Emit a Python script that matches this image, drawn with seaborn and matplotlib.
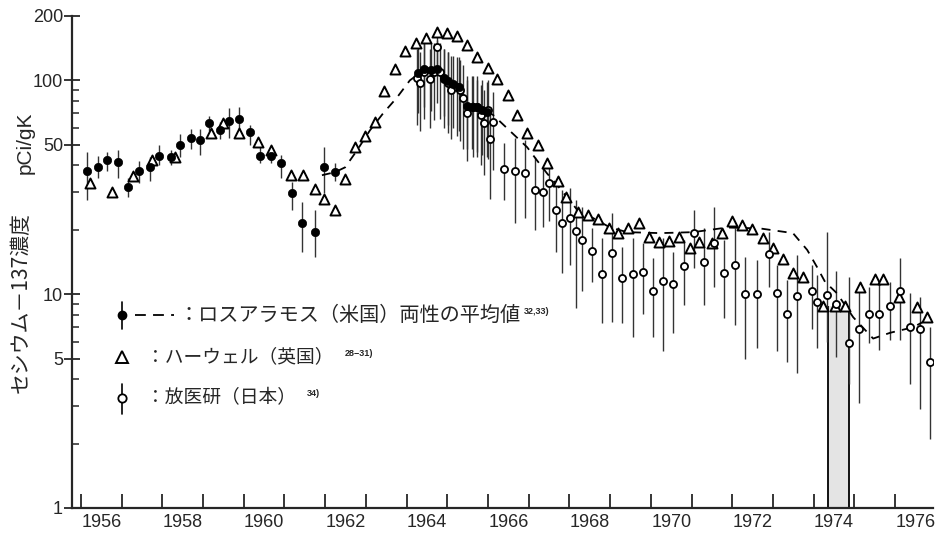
import numpy as np
import pandas as pd
import matplotlib
matplotlib.use('Agg')
import matplotlib.pyplot as plt
import seaborn as sns
from matplotlib.ticker import FixedLocator, NullFormatter, FixedFormatter

# Los Alamos (US) - filled circles with error bars
la_year = [1956.15, 1956.42, 1956.64, 1956.91, 1957.15, 1957.43, 1957.70, 1957.92,
           1958.21, 1958.43, 1958.70, 1958.92, 1959.15, 1959.42, 1959.64, 1959.89,
           1960.15, 1960.40, 1960.67, 1960.91, 1961.18, 1961.43, 1961.75, 1961.97,
           1962.24, 1964.28, 1964.43, 1964.60, 1964.75, 1964.92, 1965.02, 1965.14,
           1965.29, 1965.48, 1965.61, 1965.73, 1965.85, 1965.98]
la_val = [37.6, 39.2, 42.3, 41.4, 31.7, 37.6, 39.2, 44.5, 43.6, 49.6, 53.6, 52.4,
          63.0, 58.4, 64.3, 65.9, 57.6, 44.5, 44.5, 40.9, 29.6, 21.5, 19.5, 39.2,
          37.2, 108, 113, 112, 113, 103, 99, 96, 93, 76, 75, 75, 73, 71]
la_lo = [27.5, 34.8, 37.5, 35, 28.5, 33, 34, 40, 40, 44, 48, 45, 58, 53, 54, 55,
         50, 41, 41, 35, 24.8, 15.7, 14.9, 29.6, 34, 70, 75, 72, 78, 68, 62, 60,
         58, 48, 48, 46, 45, 44]
la_hi = [46, 44.2, 46, 47, 35, 42, 44, 50, 47, 56, 59, 59, 68, 64, 74, 75, 62, 49,
         48, 45, 33.4, 27, 24.8, 48.7, 41, 150, 155, 150, 155, 140, 135, 130, 128,
         105, 105, 100, 100, 98]

# Los Alamos average of both sexes (dashed curve)
avg_year = [1961.92, 1962.24, 1962.49, 1962.78, 1963.10, 1963.42, 1963.76, 1964.08,
            1964.26, 1964.50, 1964.75, 1964.99, 1965.48, 1966.12, 1966.61, 1966.96,
            1967.20, 1967.45, 1967.70, 1967.94, 1968.26, 1968.58, 1969.00, 1969.42,
            1970.23, 1971.04, 1971.87, 1972.68, 1973.49, 1973.84, 1974.08, 1974.28,
            1974.57, 1974.97, 1975.46, 1975.88, 1976.44, 1976.79]
avg_val = [36, 37.2, 39.2, 47, 58.4, 70, 83, 100, 106, 111, 111, 102, 81, 69, 56.3,
           48.7, 42.3, 36.7, 32.3, 28.4, 23.9, 22.7, 20.5, 19.5, 19.3, 19.5, 20.5,
           20.3, 19.3, 16.1, 13.4, 11.4, 10.1, 7.8, 6.2, 6.6, 7.0, 7.6]

# Harwell (UK) - open triangles
hw_year = [1956.22, 1956.77, 1957.28, 1957.74, 1958.31, 1959.19, 1959.48, 1959.89,
           1960.35, 1960.67, 1961.16, 1961.46, 1961.75, 1961.97, 1962.24, 1962.49,
           1962.74, 1962.98, 1963.22, 1963.44, 1963.71, 1963.96, 1964.23, 1964.48,
           1964.75, 1964.99, 1965.24, 1965.48, 1965.73, 1966.00, 1966.22, 1966.49,
           1966.71, 1966.96, 1967.23, 1967.45, 1967.72, 1967.92, 1968.21, 1968.46,
           1968.70, 1968.97, 1969.19, 1969.44, 1969.71, 1969.96, 1970.20, 1970.45,
           1970.69, 1970.96, 1971.18, 1971.50, 1971.75, 1971.99, 1972.24, 1972.49,
           1972.76, 1973.00, 1973.25, 1973.49, 1973.74, 1974.23, 1974.52, 1974.77,
           1975.14, 1975.51, 1975.70, 1976.10, 1976.54, 1976.79]
hw_val = [33, 30, 35.6, 42.3, 43.6, 56.6, 63, 56.6, 51.5, 47, 36, 36, 31, 27.8,
          24.8, 34.4, 49, 54.8, 63.6, 89.6, 113, 137, 149, 157, 168, 166, 162, 147,
          128, 114, 102, 85, 69, 57, 49.6, 41, 34, 28.4, 24.2, 23.4, 22.5, 20.3,
          19.3, 20.5, 21.5, 18.5, 17.5, 17.7, 18.5, 16.4, 17.5, 17.4, 19.3, 22.0,
          21.1, 20.2, 18.3, 16.4, 14.6, 12.5, 12.0, 8.8, 8.8, 8.8, 10.8, 11.8, 11.8,
          9.7, 8.7, 7.8]

# NIRS (Japan) - open circles with error bars
nirs_year = [1964.26, 1964.33, 1964.43, 1964.57, 1964.67, 1964.75, 1964.82, 1964.92,
             1965.02, 1965.09, 1965.24, 1965.31, 1965.39, 1965.48, 1965.63, 1965.73,
             1965.83, 1965.90, 1966.00, 1966.05, 1966.12, 1966.39, 1966.66, 1966.91,
             1967.15, 1967.35, 1967.50, 1967.67, 1967.82, 1968.01, 1968.16, 1968.31,
             1968.56, 1968.80, 1969.05, 1969.29, 1969.56, 1969.81, 1970.05, 1970.30,
             1970.55, 1970.82, 1971.06, 1971.31, 1971.55, 1971.80, 1972.07, 1972.31,
             1972.61, 1972.90, 1973.10, 1973.35, 1973.59, 1973.96, 1974.08, 1974.33,
             1974.55, 1974.87, 1975.11, 1975.36, 1975.61, 1975.88, 1976.12, 1976.37,
             1976.61, 1976.86]
nirs_val = [103, 97, 109, 101, 109, 144, 109, 102, 97, 90, 93, 90, 83, 70, 75, 75,
            69, 63, 73, 53, 64, 38.7, 37.6, 36.7, 30.6, 29.9, 33, 24.8, 21.5, 22.7,
            19.8, 17.9, 15.9, 12.4, 15.5, 11.9, 12.4, 12.7, 10.4, 11.5, 11.1, 13.5,
            19.3, 14.1, 17.3, 12.5, 13.7, 10.0, 10.0, 15.4, 10.1, 8.1, 9.8, 10.3, 9.2,
            9.9, 9.0, 5.9, 6.9, 8.1, 8.1, 8.8, 10.3, 7.0, 6.9, 4.8]
nirs_lo = [62, 58, 66, 60, 65, 118, 66, 60, 57, 53, 55, 52, 48, 42, 44, 44, 40, 36,
           43, 28, 38, 27.5, 21.5, 22.7, 19.9, 20.6, 22, 15.7, 12.5, 13.7, 8.6, 10.4,
           11.4, 7.3, 7.4, 7.3, 6.3, 8.1, 6.3, 5.4, 6.6, 8.9, 13.3, 8.9, 10.8, 7.7,
           7.2, 5.0, 5.6, 10.8, 5.4, 4.8, 4.3, 6.9, 5.6, 6.0, 5.1, 3.8, 3.1, 5.9, 5.5,
           6.1, 6.1, 3.8, 2.9, 2.1]
nirs_hi = [140, 135, 150, 140, 150, 175, 150, 140, 135, 130, 128, 125, 118, 100, 105,
           105, 95, 90, 100, 75, 88, 50.8, 54, 52.4, 43.6, 39, 40, 33.4, 30.6, 31.3,
           27.5, 25.5, 20.5, 18.3, 24, 16.6, 18.3, 17.3, 14.7, 18.3, 15.7, 17.9, 24.7,
           20.3, 25.5, 17.9, 20.3, 14.9, 14.4, 19.5, 13.7, 11.6, 15.2, 13.7, 12.3,
           19.5, 12.9, 12.0, 11.0, 10.8, 11.4, 11.4, 14.7, 10.1, 9.7, 7.0]

# shaded interval in 1974
shade_year = [1974.34, 1974.86]
shade_top = [8.8, 8.8]

year_ticks = list(range(1956, 1977))
year_labels = ['1956', '1958', '1960', '1962', '1964', '1966', '1968', '1970',
               '1972', '1974', '1976']
y_ticks = [1, 5, 10, 50, 100, 200]
y_minor = [2, 3, 4, 6, 7, 8, 9, 20, 30, 40, 60, 70, 80, 90]

df_la = pd.DataFrame({'year': la_year, 'val': la_val, 'lo': la_lo, 'hi': la_hi})
df_avg = pd.DataFrame({'year': avg_year, 'val': avg_val})
df_hw = pd.DataFrame({'year': hw_year, 'val': hw_val})
df_nirs = pd.DataFrame({'year': nirs_year, 'val': nirs_val, 'lo': nirs_lo, 'hi': nirs_hi})

sns.set_style('ticks')
plt.rcParams['font.family'] = ['Liberation Sans', 'Noto Sans CJK JP', 'DejaVu Sans']
jp = ['Noto Sans CJK JP', 'DejaVu Sans']

fig = plt.figure(figsize=(9.36, 5.35), dpi=100)
ax = fig.add_axes([0.0769, 0.0505, 0.9199, 0.9196])

# shaded 1974 band
ax.fill_between(shade_year, 1, shade_top, color='#e4e4e4', lw=0, zorder=1)
ax.vlines(shade_year, 1, shade_top, color='black', lw=1.3, zorder=2)

# error bars
ax.vlines(df_nirs['year'], df_nirs['lo'], df_nirs['hi'], color='#333333', lw=1.0, zorder=2)
ax.vlines(df_la['year'], df_la['lo'], df_la['hi'], color='#333333', lw=1.0, zorder=2)

sns.lineplot(data=df_avg, x='year', y='val', ax=ax, color='black', lw=1.3,
             dashes=False, zorder=3)
ax.lines[-1].set_dashes((5, 4))

sns.scatterplot(data=df_hw, x='year', y='val', ax=ax, marker='^', s=52,
                facecolor='white', edgecolor='black', linewidth=1.4, zorder=4)
sns.scatterplot(data=df_nirs, x='year', y='val', ax=ax, marker='o', s=26,
                facecolor='white', edgecolor='black', linewidth=1.3, zorder=5)
sns.scatterplot(data=df_la, x='year', y='val', ax=ax, marker='o', s=36,
                color='black', edgecolor='black', linewidth=0.5, zorder=6)

ax.set_yscale('log')
ax.set_ylim(1, 200)
ax.set_xlim(1955.78, 1976.93)

ax.yaxis.set_major_locator(FixedLocator(y_ticks))
ax.yaxis.set_major_formatter(FixedFormatter([str(v) for v in y_ticks]))
ax.yaxis.set_minor_locator(FixedLocator(y_minor))
ax.yaxis.set_minor_formatter(NullFormatter())

ax.xaxis.set_major_locator(FixedLocator(year_ticks))
ax.xaxis.set_major_formatter(NullFormatter())
ax.xaxis.set_minor_locator(FixedLocator([int(y) + 0.5 for y in year_labels]))
ax.xaxis.set_minor_formatter(FixedFormatter(year_labels))

ax.tick_params(axis='x', which='major', direction='in', length=10, width=1.3)
ax.tick_params(axis='x', which='minor', length=0, labelsize=13, pad=4)
ax.tick_params(axis='y', which='major', direction='inout', length=11, width=1.3,
               labelsize=13, pad=1)
ax.tick_params(axis='y', which='minor', direction='in', length=5, width=1.1)

sns.despine(ax=ax)
for s in ['left', 'bottom']:
    ax.spines[s].set_linewidth(1.6)
ax.set_xlabel('')
ax.set_ylabel('')

fig.text(0.027, 0.733, 'pCi/gK', rotation=90, ha='center', va='center', fontsize=15)
fig.text(0.022, 0.434, 'セシウム－137濃度', rotation=90, ha='center', va='center',
         fontsize=15, family=jp)

# legend drawn by hand
tr = ax.transAxes
kx = 0.058
ky = [0.392, 0.307, 0.224]
ax.plot([kx, kx], [ky[0] + 0.026, ky[0] - 0.028], color='black', lw=1.2, transform=tr)
ax.plot([kx], [ky[0]], 'o', color='black', ms=6, transform=tr)
ax.plot([0.073, 0.119], [ky[0], ky[0]], color='black', lw=1.3, dashes=(6, 4), transform=tr)
ax.plot([kx], [ky[1]], '^', mfc='white', mec='black', mew=1.4, ms=8, transform=tr)
ax.plot([kx, kx], [ky[2] + 0.028, ky[2] - 0.032], color='black', lw=1.2, transform=tr)
ax.plot([kx], [ky[2]], 'o', mfc='white', mec='black', mew=1.3, ms=6, transform=tr)

labels = ['：ロスアラモス（米国）両性の平均値', '：ハーウェル（英国）', '：放医研（日本）']
refs = ['32,33)', '28−31)', '34)']
lx = [0.124, 0.086, 0.086]
lsize = [14.5, 13.5, 13.5]
for i in range(3):
    t = ax.text(lx[i], ky[i], labels[i], transform=tr, va='center', ha='left',
                fontsize=lsize[i], family=jp)
    ax.annotate(refs[i], xy=(1, 0.9), xycoords=t, xytext=(2 if i == 0 else 8, 0),
                textcoords='offset points', va='top', ha='left', fontsize=6.5,
                fontweight='bold')

fig.savefig('out.png', dpi=100)
